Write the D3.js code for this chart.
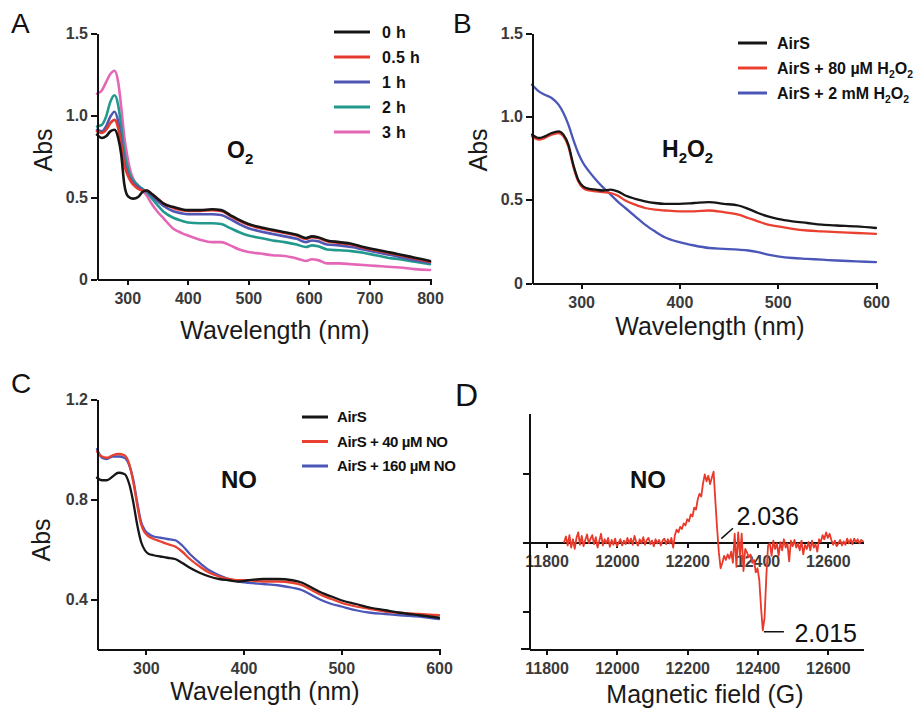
<!DOCTYPE html>
<html lang="en">
<head>
<meta charset="utf-8">
<title>AirS spectra</title>
<script src="https://cdn.jsdelivr.net/npm/d3@7"></script>
<style>
  body { margin: 0; background: #fff; }
  svg { font-family: "Liberation Sans", Arial, sans-serif; }
  .axis path, .axis line { fill: none; stroke: #111; stroke-width: 2; shape-rendering: crispEdges; }
  .axis text { font-size: 16px; font-weight: bold; fill: #3a3a3a; font-family: "Liberation Sans", Arial, sans-serif; }
  .title { font-size: 25px; fill: #1a1a1a; }
  .letter { font-size: 28px; fill: #111; }
  .legend text { font-size: 15px; font-weight: bold; fill: #111; }
  .tag { font-size: 23px; font-weight: bold; fill: #111; }
  .spec { fill: none; stroke-linejoin: round; stroke-linecap: round; }
  .note { font-size: 25px; fill: #111; }
</style>
</head>
<body>
<svg id="fig" width="923" height="708"></svg>
<script>

// ---- panel A : O2 exposure ----
var aWave = [250, 258, 265, 272, 279, 285, 290, 295, 300, 305, 310, 318, 325, 332, 340, 350, 360, 375, 390, 400,
             420, 440, 455, 470, 485, 500, 520, 540, 560, 580, 595, 605, 615, 630, 650, 670, 690, 710, 730, 750, 775, 800];
var a0h  = [0.88, 0.86, 0.87, 0.90, 0.91, 0.86, 0.76, 0.58, 0.51, 0.495, 0.49, 0.50, 0.53, 0.54, 0.52, 0.49, 0.46, 0.44, 0.425, 0.42,
            0.42, 0.425, 0.42, 0.39, 0.36, 0.335, 0.315, 0.30, 0.285, 0.27, 0.25, 0.26, 0.255, 0.235, 0.225, 0.215, 0.195, 0.18, 0.165, 0.15, 0.13, 0.11];
var a05h = [0.90, 0.89, 0.91, 0.95, 0.97, 0.92, 0.82, 0.70, 0.64, 0.60, 0.575, 0.55, 0.54, 0.54, 0.52, 0.49, 0.46, 0.435, 0.42, 0.415,
            0.415, 0.42, 0.415, 0.385, 0.355, 0.33, 0.31, 0.295, 0.28, 0.265, 0.245, 0.255, 0.25, 0.23, 0.22, 0.21, 0.19, 0.175, 0.16, 0.145, 0.125, 0.105];
var a1h  = [0.91, 0.90, 0.93, 0.99, 1.02, 0.96, 0.85, 0.72, 0.65, 0.61, 0.585, 0.56, 0.545, 0.535, 0.51, 0.475, 0.445, 0.415, 0.40, 0.395,
            0.395, 0.395, 0.39, 0.365, 0.335, 0.31, 0.29, 0.275, 0.26, 0.245, 0.225, 0.235, 0.23, 0.21, 0.205, 0.195, 0.18, 0.165, 0.15, 0.135, 0.115, 0.10];
var a2h  = [0.93, 0.94, 0.99, 1.08, 1.12, 1.06, 0.93, 0.78, 0.69, 0.63, 0.60, 0.57, 0.55, 0.53, 0.495, 0.45, 0.41, 0.375, 0.355, 0.345,
            0.34, 0.34, 0.335, 0.31, 0.285, 0.265, 0.25, 0.235, 0.225, 0.21, 0.195, 0.205, 0.20, 0.18, 0.175, 0.17, 0.16, 0.145, 0.13, 0.12, 0.105, 0.09];
var a3h  = [1.13, 1.15, 1.20, 1.25, 1.27, 1.20, 1.05, 0.87, 0.75, 0.66, 0.61, 0.57, 0.54, 0.51, 0.46, 0.41, 0.37, 0.31, 0.28, 0.265,
            0.24, 0.225, 0.225, 0.205, 0.18, 0.165, 0.155, 0.145, 0.14, 0.125, 0.11, 0.12, 0.115, 0.095, 0.095, 0.09, 0.085, 0.08, 0.075, 0.07, 0.06, 0.055];
var aLabels = ["0 h", "0.5 h", "1 h", "2 h", "3 h"];
var aColors = ["#161616", "#e5392e", "#5056b4", "#22998c", "#e466b6"];

// ---- panel B : H2O2 ----
var bWave = [250, 257, 263, 270, 277, 282, 287, 292, 297, 302, 308, 315, 322, 330, 337, 345, 355, 365, 375, 385,
             400, 415, 430, 445, 460, 470, 480, 490, 500, 515, 530, 545, 560, 580, 600];
var bAirS = [0.89, 0.87, 0.88, 0.90, 0.91, 0.89, 0.83, 0.71, 0.62, 0.58, 0.565, 0.56, 0.555, 0.56, 0.55, 0.525, 0.505, 0.49, 0.48, 0.475,
             0.475, 0.48, 0.485, 0.475, 0.465, 0.445, 0.42, 0.40, 0.385, 0.37, 0.36, 0.35, 0.345, 0.34, 0.33];
var b80uM = [0.88, 0.86, 0.87, 0.89, 0.90, 0.88, 0.82, 0.70, 0.61, 0.57, 0.555, 0.55, 0.545, 0.54, 0.525, 0.495, 0.47, 0.45, 0.44, 0.435,
             0.43, 0.43, 0.435, 0.425, 0.41, 0.39, 0.37, 0.35, 0.34, 0.325, 0.315, 0.31, 0.305, 0.30, 0.295];
var b2mM  = [1.19, 1.15, 1.13, 1.11, 1.07, 1.02, 0.95, 0.86, 0.78, 0.72, 0.67, 0.62, 0.575, 0.53, 0.49, 0.45, 0.40, 0.35, 0.31, 0.275,
             0.245, 0.225, 0.21, 0.205, 0.20, 0.195, 0.185, 0.17, 0.16, 0.15, 0.145, 0.14, 0.135, 0.13, 0.125];
var bLabels = ["AirS", "AirS + 80 µM H~2~O~2", "AirS + 2 mM H~2~O~2"];
var bColors = ["#161616", "#ea4030", "#4a57b8"];

// ---- panel C : NO ----
var cWave = [250, 255, 260, 266, 272, 278, 283, 287, 291, 295, 299, 303, 308, 315, 322, 330, 337, 345, 355, 365,
             375, 385, 395, 405, 420, 435, 450, 460, 470, 480, 490, 500, 515, 530, 545, 560, 580, 600];
var cAirS  = [0.885, 0.875, 0.875, 0.89, 0.905, 0.90, 0.86, 0.79, 0.70, 0.63, 0.595, 0.58, 0.575, 0.57, 0.565, 0.56, 0.545, 0.525, 0.505, 0.49,
              0.48, 0.475, 0.47, 0.475, 0.48, 0.48, 0.475, 0.465, 0.445, 0.425, 0.41, 0.395, 0.38, 0.365, 0.355, 0.345, 0.335, 0.325];
var c40uM  = [0.99, 0.97, 0.965, 0.975, 0.98, 0.975, 0.94, 0.87, 0.78, 0.70, 0.665, 0.65, 0.64, 0.63, 0.62, 0.61, 0.59, 0.56, 0.53, 0.505,
              0.49, 0.48, 0.475, 0.475, 0.47, 0.47, 0.465, 0.455, 0.435, 0.415, 0.40, 0.385, 0.37, 0.36, 0.35, 0.345, 0.34, 0.335];
var c160uM = [1.00, 0.965, 0.96, 0.97, 0.97, 0.965, 0.935, 0.88, 0.79, 0.71, 0.675, 0.66, 0.65, 0.645, 0.64, 0.635, 0.615, 0.58, 0.545, 0.515,
              0.495, 0.48, 0.47, 0.465, 0.46, 0.455, 0.445, 0.435, 0.415, 0.395, 0.38, 0.37, 0.355, 0.345, 0.34, 0.335, 0.33, 0.32];
var cLabels = ["AirS", "AirS + 40 µM NO", "AirS + 160 µM NO"];
var cColors = ["#161616", "#ea4030", "#4a57b8"];

// ---- panel D : EPR ----
var dField = [11850, 11855, 11860, 11865, 11870, 11875, 11880, 11885, 11890, 11895, 11900, 11905, 11910, 11915, 11920, 11925, 11930, 11935, 11940, 11945,
              11950, 11955, 11960, 11965, 11970, 11975, 11980, 11985, 11990, 11995, 12000, 12005, 12010, 12015, 12020, 12025, 12030, 12035, 12040, 12045,
              12050, 12055, 12060, 12065, 12070, 12075, 12080, 12085, 12090, 12095, 12100, 12105, 12110, 12115, 12120, 12125, 12130, 12135, 12140, 12145,
              12150, 12155, 12160, 12165, 12170, 12175, 12180, 12185, 12190, 12195, 12200, 12205, 12210, 12215, 12220, 12225, 12230, 12235, 12240, 12245,
              12250, 12255, 12260, 12265, 12270, 12275, 12280, 12285, 12290, 12295, 12300, 12305, 12310, 12315, 12320, 12325, 12330, 12335, 12340, 12345,
              12350, 12355, 12360, 12365, 12370, 12375, 12380, 12385, 12390, 12395, 12400, 12405, 12410, 12415, 12420, 12425, 12430, 12435, 12440, 12445,
              12450, 12455, 12460, 12465, 12470, 12475, 12480, 12485, 12490, 12495, 12500, 12505, 12510, 12515, 12520, 12525, 12530, 12535, 12540, 12545,
              12550, 12555, 12560, 12565, 12570, 12575, 12580, 12585, 12590, 12595, 12600, 12605, 12610, 12615, 12620, 12625, 12630, 12635, 12640, 12645,
              12650, 12655, 12660, 12665, 12670, 12675, 12680, 12685, 12690, 12695, 12700];
var dSignal = [0.00, 0.08, -0.05, 0.10, -0.08, 0.04, -0.10, 0.06, 0.14, -0.04, 0.09, -0.06, 0.03, 0.11, -0.02, 0.05, 0.10, -0.03, 0.07, -0.08,
               0.02, 0.12, -0.05, 0.04, -0.02, 0.06, -0.07, 0.03, -0.04, 0.05, -0.06, -0.01, 0.04, -0.05, 0.02, -0.03, 0.06, -0.02, 0.05, -0.04,
               0.09, 0.00, -0.05, 0.04, -0.02, 0.07, -0.04, 0.03, 0.06, -0.03, 0.02, -0.06, 0.04, -0.02, 0.03, -0.05, 0.02, 0.05, -0.03, 0.04,
               -0.02, 0.06, -0.08, 0.10, 0.18, 0.14, 0.22, 0.19, 0.27, 0.24, 0.33, 0.30, 0.40, 0.37, 0.50, 0.47, 0.62, 0.70, 0.66, 0.85,
               0.98, 0.88, 0.96, 0.84, 0.93, 1.02, 0.60, 0.20, -0.15, -0.38, -0.30, -0.20, -0.26, -0.18, -0.24, -0.14, -0.30, 0.12, -0.36, 0.14,
               -0.20, 0.12, -0.42, -0.10, -0.15, -0.22, -0.18, -0.30, -0.26, -0.44, -0.38, -0.55, -0.95, -1.28, -1.10, -0.50, -0.05, -0.02, -0.20, 0.02,
               -0.10, -0.02, -0.20, 0.00, -0.12, 0.04, -0.08, -0.02, -0.28, 0.02, -0.06, 0.03, -0.08, -0.02, -0.12, 0.02, -0.18, -0.04, -0.10, 0.00,
               -0.12, 0.02, -0.08, -0.03, -0.14, 0.04, 0.00, 0.10, 0.04, 0.14, 0.06, 0.12, 0.03, -0.04, 0.02, -0.06, -0.02, 0.03, -0.05, 0.01,
               -0.04, 0.05, -0.02, 0.04, -0.03, 0.05, 0.00, 0.04, -0.02, 0.03, 0.01];
var dTicks = [11800, 12000, 12200, 12400, 12600];

var svg = d3.select("#fig");

function rich(text, str, size) {
    // parts between "~" are subscripts
    str.split("~").forEach(function(part, i) {
        var t = text.append("tspan").text(part);
        if (i % 2 == 1) t.attr("font-size", size * 0.65).attr("dy", size * 0.28);
        else if (i > 0) t.attr("dy", -size * 0.28);
    });
}

function axes(g, x, y, xTicks, yTicks, yFmt) {
    g.append("g")
        .attr("class", "axis")
        .attr("transform", "translate(0," + y.range()[0] + ")")
        .call(d3.axisBottom(x).tickValues(xTicks).tickSize(6).tickPadding(8).tickSizeOuter(0));
    g.append("g")
        .attr("class", "axis")
        .attr("transform", "translate(" + x.range()[0] + ",0)")
        .call(d3.axisLeft(y).tickValues(yTicks).tickFormat(yFmt).tickSize(6).tickPadding(3).tickSizeOuter(0));
}

function spectra(g, x, y, wave, series, colors, width) {
    var line = d3.line()
        .x(function(d) { return x(d[0]); })
        .y(function(d) { return y(d[1]); })
        .curve(d3.curveMonotoneX);
    // draw last series first so black ends up on top
    series.slice().reverse().forEach(function(vals, k) {
        var i = series.length - 1 - k;
        g.append("path")
            .attr("class", "spec")
            .datum(wave.map(function(w, j) { return [w, vals[j]]; }))
            .attr("d", line)
            .attr("stroke", colors[i])
            .attr("stroke-width", width);
    });
}

function legend(g, x0, x1, tx, y0, step, labels, colors, size, spacing) {
    labels.forEach(function(lab, i) {
        var yy = y0 + i * step;
        g.append("line")
            .attr("x1", x0).attr("x2", x1).attr("y1", yy).attr("y2", yy)
            .attr("stroke", colors[i]).attr("stroke-width", 3);
        var t = g.append("text")
            .attr("x", tx).attr("y", yy).attr("dy", "0.36em")
            .style("font-size", size + "px")
            .style("letter-spacing", spacing + "px");
        rich(t, lab, size);
    });
}

function axisTitles(g, ax, ay, wx, wy, wtext) {
    g.append("text").attr("class", "title")
        .attr("transform", "translate(" + ax + "," + ay + ") rotate(-90)")
        .attr("text-anchor", "middle").attr("dy", "0.36em")
        .text("Abs");
    g.append("text").attr("class", "title")
        .attr("x", wx).attr("y", wy).attr("text-anchor", "middle")
        .text(wtext);
}

var fmt1 = function(d) { return d === 0 ? "0" : d.toFixed(1); };

// Panel A
var gA = svg.append("g");
var xA = d3.scaleLinear().domain([250, 800]).range([97, 430]);
var yA = d3.scaleLinear().domain([0, 1.5]).range([279, 33]);
spectra(gA, xA, yA, aWave, [a0h, a05h, a1h, a2h, a3h], aColors, 2.6);
axes(gA, xA, yA, [300, 400, 500, 600, 700, 800], [0, 0.5, 1.0, 1.5], fmt1);
legend(gA.append("g").attr("class", "legend"), 334, 370, 382, 32, 25, aLabels, aColors, 16, 0.3);
axisTitles(gA, 43, 150, 275, 339, "Wavelength (nm)");
rich(gA.append("text").attr("class", "tag").attr("x", 227).attr("y", 158), "O~2", 23);
gA.append("text").attr("class", "letter").attr("x", 11).attr("y", 33).text("A");

// Panel B
var gB = svg.append("g");
var xB = d3.scaleLinear().domain([250, 600]).range([532, 876]);
var yB = d3.scaleLinear().domain([0, 1.5]).range([283, 33]);
spectra(gB, xB, yB, bWave, [bAirS, b80uM, b2mM], bColors, 2.3);
axes(gB, xB, yB, [300, 400, 500, 600], [0, 0.5, 1.0, 1.5], fmt1);
legend(gB.append("g").attr("class", "legend"), 738, 767, 777, 43, 25, bLabels, bColors, 16, 0);
axisTitles(gB, 478, 150, 710, 335, "Wavelength (nm)");
rich(gB.append("text").attr("class", "tag").attr("x", 662).attr("y", 157), "H~2~O~2", 23);
gB.append("text").attr("class", "letter").attr("x", 453).attr("y", 33).text("B");

// Panel C
var gC = svg.append("g");
var xC = d3.scaleLinear().domain([250, 600]).range([97, 439]);
var yC = d3.scaleLinear().domain([0.2, 1.2]).range([649, 399]);
spectra(gC, xC, yC, cWave, [cAirS, c40uM, c160uM], cColors, 2.3);
axes(gC, xC, yC, [300, 400, 500, 600], [0.4, 0.8, 1.2], fmt1);
legend(gC.append("g").attr("class", "legend"), 302, 328, 337, 417, 24.5, cLabels, cColors, 15, -0.4);
axisTitles(gC, 41, 540, 265, 700, "Wavelength (nm)");
gC.append("text").attr("class", "tag").attr("x", 221).attr("y", 488).style("font-size", "24px").text("NO");
gC.append("text").attr("class", "letter").attr("x", 11).attr("y", 393).text("C");

// Panel D
var gD = svg.append("g");
var xD = d3.scaleLinear().domain([11750, 12700]).range([529, 863]);
var yD = d3.scaleLinear().domain([-1.55, 1.87]).range([649, 413]);

// zero line with its own tick labels
gD.append("g")
    .attr("class", "axis")
    .attr("transform", "translate(0," + yD(0) + ")")
    .call(d3.axisBottom(xD).tickValues(dTicks).tickFormat(d3.format("d")).tickSize(6).tickPadding(8).tickSizeOuter(0));
// bottom axis
var bot = gD.append("g")
    .attr("class", "axis")
    .attr("transform", "translate(0," + yD.range()[0] + ")")
    .call(d3.axisBottom(xD).tickValues(dTicks).tickFormat(d3.format("d")).tickSize(6).tickPadding(8).tickSizeOuter(0));
bot.append("line").attr("x1", xD.range()[0] - 8).attr("x2", xD.range()[0]).attr("y1", 0).attr("y2", 0);
gD.append("g")
    .attr("class", "axis")
    .attr("transform", "translate(" + xD.range()[0] + ",0)")
    .call(d3.axisLeft(yD).tickValues([-1, 0, 1]).tickFormat("").tickSize(6).tickSizeOuter(0));

gD.append("path")
    .attr("class", "spec")
    .datum(dField.map(function(f, i) { return [f, dSignal[i]]; }))
    .attr("d", d3.line().x(function(d) { return xD(d[0]); }).y(function(d) { return yD(d[1]); }))
    .attr("stroke", "#e8392b")
    .attr("stroke-width", 1.8);

// g-value annotations
gD.append("line").attr("stroke", "#111").attr("stroke-width", 1.5)
    .attr("x1", xD(12297)).attr("y1", yD(0.05)).attr("x2", xD(12330)).attr("y2", yD(0.2));
gD.append("text").attr("class", "note").attr("x", xD(12340)).attr("y", yD(0.25)).text("2.036");
gD.append("line").attr("stroke", "#111").attr("stroke-width", 1.5)
    .attr("x1", xD(12418)).attr("y1", yD(-1.3)).attr("x2", xD(12475)).attr("y2", yD(-1.3));
gD.append("text").attr("class", "note").attr("x", xD(12505)).attr("y", yD(-1.45)).text("2.015");

gD.append("text").attr("class", "title").attr("x", 705).attr("y", 703).attr("text-anchor", "middle").text("Magnetic field (G)");
gD.append("text").attr("class", "tag").attr("x", 630).attr("y", 488).style("font-size", "24px").text("NO");
gD.append("text").attr("class", "letter").attr("x", 455).attr("y", 406).style("font-size", "32px").text("D");

</script>
</body>
</html>
